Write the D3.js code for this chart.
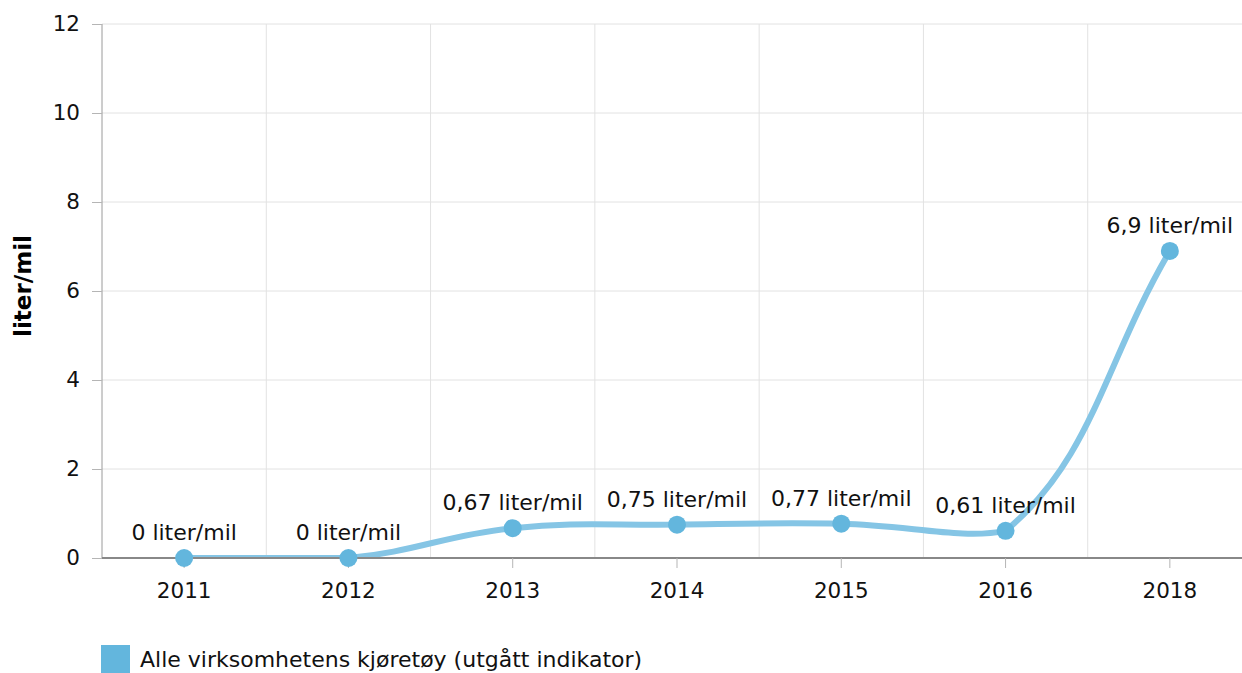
<!DOCTYPE html>
<html>
<head>
<meta charset="utf-8">
<script src="https://cdn.jsdelivr.net/npm/d3@7"></script>
<style>
  html, body { margin: 0; padding: 0; background: #fff; }
  #chart { width: 1242px; height: 673px; }
  text { font-family: "DejaVu Sans", Verdana, sans-serif; }
</style>
</head>
<body>
<div id="chart"></div>
<script>
  // chart data
  const years = ["2011", "2012", "2013", "2014", "2015", "2016", "2018"];
  const values = [0, 0, 0.67, 0.75, 0.77, 0.61, 6.9];
  const valueLabels = ["0 liter/mil", "0 liter/mil", "0,67 liter/mil", "0,75 liter/mil", "0,77 liter/mil", "0,61 liter/mil", "6,9 liter/mil"];
  const yTicks = [0, 2, 4, 6, 8, 10, 12];
  const seriesName = "Alle virksomhetens kjøretøy (utgått indikator)";
  const yTitle = "liter/mil";

  const width = 1242, height = 673;
  const margin = { top: 24, right: -10, bottom: 115, left: 102 };
  const plotRight = 1242;
  const lineColor = "#85c5e5", dotColor = "#63b6dd";
  const fs = 21.5, labelFs = 22;

  const svg = d3.select("#chart").append("svg")
    .attr("width", width)
    .attr("height", height);

  const x = d3.scaleBand()
    .domain(years)
    .range([margin.left, width - margin.right]);

  const y = d3.scaleLinear()
    .domain([0, 12])
    .range([height - margin.bottom, margin.top]);

  const cx = d => x(d) + x.bandwidth() / 2;

  svg.append("clipPath").attr("id", "plot-clip")
    .append("rect")
      .attr("x", margin.left)
      .attr("y", y(12))
      .attr("width", plotRight - margin.left)
      .attr("height", y(0) - y(12));

  // horizontal grid
  svg.append("g")
    .selectAll("line")
    .data(yTicks.slice(1))
    .join("line")
      .attr("x1", margin.left)
      .attr("x2", plotRight)
      .attr("y1", d => y(d))
      .attr("y2", d => y(d))
      .attr("stroke", "#e2e2e2")
      .attr("stroke-width", 1);

  // vertical grid on band edges
  svg.append("g")
    .selectAll("line")
    .data(years.slice(1))
    .join("line")
      .attr("x1", d => x(d))
      .attr("x2", d => x(d))
      .attr("y1", margin.top)
      .attr("y2", y(0))
      .attr("stroke", "#e2e2e2")
      .attr("stroke-width", 1);

  // y axis
  const yAxis = svg.append("g")
    .attr("transform", `translate(${margin.left},0)`)
    .call(d3.axisLeft(y).tickValues(yTicks).tickSize(10).tickPadding(12).tickFormat(d3.format("d")));
  yAxis.select(".domain").attr("stroke", "#9a9a9a").attr("d", `M0,${y(12)}V${y(0)}`);
  yAxis.selectAll(".tick line").attr("stroke", "#b5b5b5");
  yAxis.selectAll(".tick text")
    .attr("font-size", fs)
    .attr("font-family", "DejaVu Sans")
    .attr("fill", "#111");

  // y title
  svg.append("text")
    .attr("transform", `translate(31,286) rotate(-90)`)
    .attr("text-anchor", "middle")
    .attr("font-size", 23)
    .attr("font-weight", "bold")
    .attr("fill", "#000")
    .text(yTitle);

  // smoothed line: control points along (next - prev), weighted by segment lengths,
  // kept near the segment's own vertical range so the overshoot stays small
  function splinePath(pts, tension, slack) {
    const top = y(12), bottom = y(0);
    const near = (v, a, b) => Math.max(Math.min(a, b) - slack, Math.min(Math.max(a, b) + slack, v));
    const cap = v => Math.max(top, Math.min(bottom, v));
    const cps = pts.map((p, i) => {
      const prev = pts[Math.max(i - 1, 0)], next = pts[Math.min(i + 1, pts.length - 1)];
      const d01 = Math.hypot(p[0] - prev[0], p[1] - prev[1]);
      const d12 = Math.hypot(next[0] - p[0], next[1] - p[1]);
      const s01 = d01 / (d01 + d12 || 1), s12 = d12 / (d01 + d12 || 1);
      const fa = tension * s01, fb = tension * s12;
      return {
        px: p[0] - fa * (next[0] - prev[0]),
        py: cap(near(p[1] - fa * (next[1] - prev[1]), p[1], prev[1])),
        nx: p[0] + fb * (next[0] - prev[0]),
        ny: cap(near(p[1] + fb * (next[1] - prev[1]), p[1], next[1]))
      };
    });
    const path = d3.path();
    path.moveTo(pts[0][0], pts[0][1]);
    for (let i = 1; i < pts.length; i++) {
      path.bezierCurveTo(cps[i - 1].nx, cps[i - 1].ny, cps[i].px, cps[i].py, pts[i][0], pts[i][1]);
    }
    return path.toString();
  }

  const pts = values.map((v, i) => [cx(years[i]), y(v)]);

  svg.append("path")
    .attr("clip-path", "url(#plot-clip)")
    .attr("fill", "none")
    .attr("stroke", lineColor)
    .attr("stroke-width", 6)
    .attr("stroke-linecap", "round")
    .attr("d", splinePath(pts, 0.4, 9));

  // x axis
  const xAxis = svg.append("g")
    .attr("transform", `translate(0,${y(0)})`)
    .call(d3.axisBottom(x).tickSize(10).tickPadding(15).tickSizeOuter(0));
  xAxis.select(".domain").attr("stroke", "#888").attr("stroke-width", 2)
    .attr("d", `M${margin.left},0H${plotRight}`);
  xAxis.selectAll(".tick line").attr("stroke", "#b5b5b5");
  xAxis.selectAll(".tick text")
    .attr("font-size", fs)
    .attr("font-family", "DejaVu Sans")
    .attr("fill", "#111");

  // points
  svg.append("g")
    .selectAll("circle")
    .data(values)
    .join("circle")
      .attr("cx", (d, i) => cx(years[i]))
      .attr("cy", d => y(d))
      .attr("r", 9)
      .attr("fill", dotColor);

  // value labels
  svg.append("g")
    .attr("text-anchor", "middle")
    .selectAll("text")
    .data(values)
    .join("text")
      .attr("x", (d, i) => cx(years[i]))
      .attr("y", d => y(d) - 18)
      .attr("font-size", labelFs)
      .attr("fill", "#111")
      .text((d, i) => valueLabels[i]);

  // legend
  const legend = svg.append("g").attr("transform", "translate(101,645)");
  legend.append("rect")
    .attr("width", 29)
    .attr("height", 28)
    .attr("fill", dotColor);
  legend.append("text")
    .attr("x", 39)
    .attr("y", 22)
    .attr("font-size", labelFs)
    .attr("fill", "#111")
    .text(seriesName);
</script>
</body>
</html>
